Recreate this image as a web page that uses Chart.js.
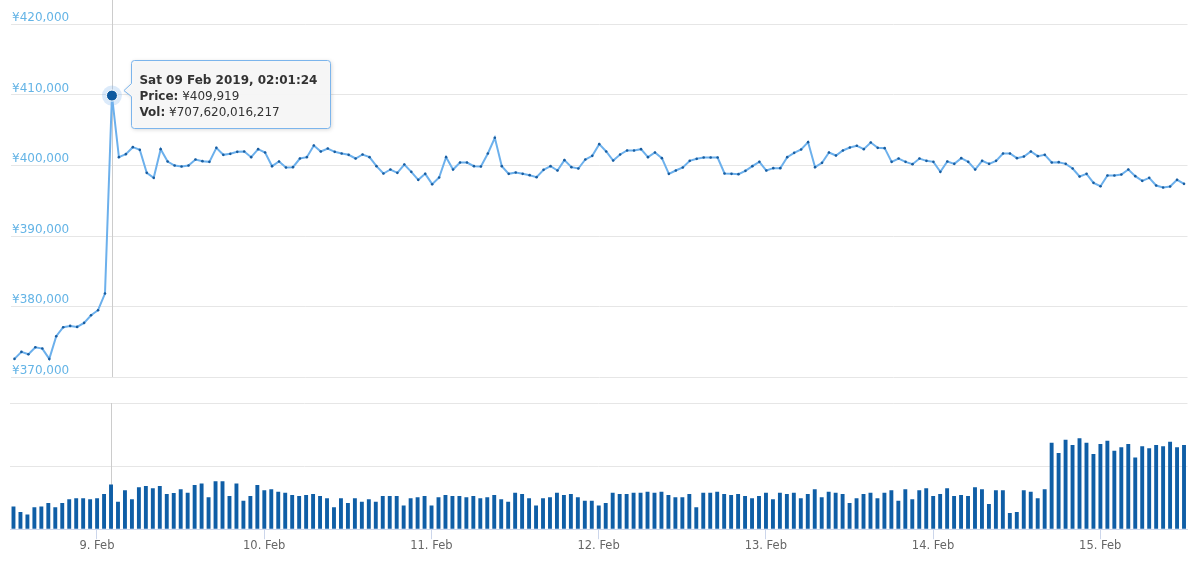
<!DOCTYPE html>
<html>
<head>
<meta charset="utf-8">
<script src="https://cdn.jsdelivr.net/npm/chart.js@4.4.1/dist/chart.umd.min.js"></script>
<style>
  html, body { margin: 0; padding: 0; background: #ffffff; }
  #wrap { position: relative; width: 1200px; height: 563px; overflow: hidden; }
  canvas { position: absolute; left: 0; }
  #priceCanvas { top: 0; }
  #volCanvas { top: 390px; }
</style>
</head>
<body>
<div id="wrap">
  <canvas id="priceCanvas" width="1200" height="390"></canvas>
  <canvas id="volCanvas" width="1200" height="173"></canvas>
</div>
<script>
// ---------- DATA ----------
// hourly samples, first sample: Fri 08 Feb 2019 12:01:24 (UTC)
const startTime = Date.UTC(2019, 1, 8, 12, 1, 24);
const stepMs = 3600 * 1000;

// price (JPY)
const prices = [
  372566, 373559, 373228, 374222, 374033, 372566, 375782, 377060, 377248, 377107,
  377674, 378762, 379472, 381837, 409919, 401182, 401608, 402600, 402223, 398959,
  398250, 402318, 400568, 400000, 399858, 400000, 400851, 400615, 400520, 402507,
  401514, 401656, 401939, 401987, 401183, 402318, 401845, 399905, 400568, 399716,
  399764, 400993, 401183, 402838, 401987, 402412, 401939, 401703, 401514, 400993,
  401561, 401183, 399905, 398865, 399432, 398960, 400142, 399101, 397966, 398818,
  397351, 398297, 401183, 399432, 400426, 400426, 399905, 399858, 401703, 403926,
  399905, 398818, 399007, 398818, 398628, 398345, 399385, 399905, 399290, 400757,
  399764, 399574, 400851, 401372, 403027, 401987, 400710, 401561, 402129, 402129,
  402318, 401183, 401845, 401041, 398818, 399290, 399716, 400662, 400946, 401135,
  401135, 401135, 398865, 398818, 398770, 399243, 399905, 400520, 399290, 399622,
  399622, 401183, 401797, 402270, 403311, 399764, 400378, 401845, 401419, 402129,
  402554, 402791, 402318, 403264, 402507, 402460, 400520, 400993, 400520, 400189,
  400993, 400662, 400520, 399101, 400568, 400237, 401041, 400520, 399432, 400662,
  400237, 400662, 401703, 401703, 401041, 401277, 401987, 401324, 401514, 400426,
  400473, 400237, 399574, 398439, 398818, 397540, 397067, 398581, 398581, 398723,
  399432, 398486, 397824, 398250, 397162, 396878, 397020, 397966, 397398
];

// traded volume, billions of JPY
const volumeUnit = 1e9;
const volumes = [
  361, 271, 234, 346, 361, 415, 346, 415, 473, 489,
  489, 473, 489, 558, 707.620016217, 436, 617, 473, 665, 686,
  649, 686, 558, 574, 633, 579, 702, 723, 505, 760,
  760, 526, 723, 452, 526, 702, 617, 633, 595, 579,
  542, 526, 542, 558, 526, 489, 346, 489, 415, 489,
  436, 473, 436, 526, 526, 526, 377, 489, 505, 526,
  377, 505, 542, 526, 526, 505, 526, 489, 505, 542,
  473, 436, 579, 558, 489, 377, 489, 505, 579, 542,
  558, 505, 452, 452, 377, 415, 579, 558, 558, 579,
  579, 595, 579, 595, 542, 505, 505, 558, 346, 579,
  579, 595, 558, 542, 558, 526, 489, 526, 579, 473,
  579, 558, 579, 489, 558, 633, 505, 595, 579, 558,
  415, 489, 558, 579, 489, 579, 617, 452, 633, 473,
  617, 649, 526, 558, 649, 526, 542, 526, 665, 633,
  399, 617, 617, 255, 271, 617, 595, 489, 633, 1372,
  1207, 1419, 1334, 1441, 1372, 1191, 1350, 1403, 1244, 1297,
  1350, 1138, 1313, 1281, 1334, 1313, 1387, 1297, 1334
];

// x-axis day ticks
const tickDays = [9, 10, 11, 12, 13, 14, 15];
const tickLabels = ['9. Feb', '10. Feb', '11. Feb', '12. Feb', '13. Feb', '14. Feb', '15. Feb'];

// price axis ticks
const priceTicks = [370000, 380000, 390000, 400000, 410000, 420000];

// highlighted sample (tooltip)
const activeIndex = 14;

// ---------- BUILD ----------
const times = prices.map((_, i) => startTime + i * stepMs);
const tickValues = tickDays.map(d => Date.UTC(2019, 1, d));
const xMin = times[0] - stepMs / 2;
const xMax = times[times.length - 1] + stepMs / 2;

const FONT = '"DejaVu Sans", "Lucida Grande", Arial, sans-serif';
const LINE_COLOR = '#6cb0ec';
const POINT_COLOR = '#1a5d9f';
const BAR_COLOR = '#0f5ea6';
const GRID = '#e6e6e6';
const AXIS = '#ccd6eb';
const CROSS = '#cccccc';

const fmt = n => n.toLocaleString('en-US');

function dayTicks(axis) {
  axis.ticks = tickValues.map(v => ({ value: v }));
}

const crosshair = {
  id: 'crosshair',
  beforeDatasetsDraw(chart, args, opts) {
    const x = chart.scales.x.getPixelForValue(times[activeIndex]);
    const ctx = chart.ctx;
    ctx.save();
    ctx.strokeStyle = CROSS;
    ctx.lineWidth = 1;
    ctx.beginPath();
    const xx = Math.round(x) + 0.5;
    ctx.moveTo(xx, opts.fromTop ? 0 : chart.chartArea.top);
    ctx.lineTo(xx, chart.chartArea.bottom);
    ctx.stroke();
    ctx.restore();
  }
};

const tooltipBox = {
  id: 'tooltipBox',
  afterDraw(chart) {
    const pt = chart.getDatasetMeta(0).data[activeIndex];
    const px = pt.x, py = pt.y;
    const ctx = chart.ctx;
    ctx.save();
    // halo + marker
    ctx.fillStyle = 'rgba(124,181,236,0.28)';
    ctx.beginPath(); ctx.arc(px, py, 10, 0, Math.PI * 2); ctx.fill();
    ctx.fillStyle = '#0e5aa0';
    ctx.strokeStyle = '#ffffff';
    ctx.lineWidth = 1;
    ctx.beginPath(); ctx.arc(px, py, 5.5, 0, Math.PI * 2); ctx.fill(); ctx.stroke();

    // callout
    const bx = Math.round(px + 19) + 0.5, by = Math.round(py - 36) + 0.5;
    const bw = 199, bh = 68, r = 3;
    ctx.beginPath();
    ctx.moveTo(bx + r, by);
    ctx.lineTo(bx + bw - r, by);
    ctx.arcTo(bx + bw, by, bx + bw, by + r, r);
    ctx.lineTo(bx + bw, by + bh - r);
    ctx.arcTo(bx + bw, by + bh, bx + bw - r, by + bh, r);
    ctx.lineTo(bx + r, by + bh);
    ctx.arcTo(bx, by + bh, bx, by + bh - r, r);
    ctx.lineTo(bx, py + 1);
    ctx.lineTo(px + 12, py - 5);
    ctx.lineTo(bx, py - 12);
    ctx.lineTo(bx, by + r);
    ctx.arcTo(bx, by, bx + r, by, r);
    ctx.closePath();
    ctx.shadowColor = 'rgba(0,0,0,0.18)';
    ctx.shadowBlur = 4;
    ctx.shadowOffsetX = 1;
    ctx.shadowOffsetY = 1;
    ctx.fillStyle = 'rgba(248,248,248,0.95)';
    ctx.fill();
    ctx.shadowColor = 'transparent';
    ctx.strokeStyle = '#7cb5ec';
    ctx.lineWidth = 1;
    ctx.stroke();

    // texts
    const t = new Date(times[activeIndex]);
    const days = ['Sun', 'Mon', 'Tue', 'Wed', 'Thu', 'Fri', 'Sat'];
    const months = ['Jan', 'Feb', 'Mar', 'Apr', 'May', 'Jun', 'Jul', 'Aug', 'Sep', 'Oct', 'Nov', 'Dec'];
    const p2 = n => String(n).padStart(2, '0');
    const title = days[t.getUTCDay()] + ' ' + p2(t.getUTCDate()) + ' ' + months[t.getUTCMonth()] + ' ' +
      t.getUTCFullYear() + ', ' + p2(t.getUTCHours()) + ':' + p2(t.getUTCMinutes()) + ':' + p2(t.getUTCSeconds());
    const tx = px + 27.5;
    ctx.fillStyle = '#333333';
    ctx.textBaseline = 'alphabetic';
    ctx.textAlign = 'left';
    ctx.font = 'bold 12px ' + FONT;
    ctx.fillText(title, tx, py - 12);
    const lines = [
      ['Price:', ' ¥' + fmt(prices[activeIndex])],
      ['Vol:', ' ¥' + fmt(Math.round(volumes[activeIndex] * volumeUnit))]
    ];
    lines.forEach((ln, k) => {
      const yy = py + 4 + k * 16;
      ctx.font = 'bold 12px ' + FONT;
      ctx.fillText(ln[0], tx, yy);
      const w = ctx.measureText(ln[0]).width;
      ctx.font = '12px ' + FONT;
      ctx.fillText(ln[1], tx + w, yy);
    });
    ctx.restore();
  }
};

// ---------- PRICE CHART ----------
new Chart(document.getElementById('priceCanvas'), {
  type: 'line',
  data: {
    datasets: [{
      data: prices.map((p, i) => ({ x: times[i], y: p })),
      borderColor: LINE_COLOR,
      borderWidth: 2,
      pointRadius: 1.3,
      pointBackgroundColor: POINT_COLOR,
      pointBorderWidth: 0,
      tension: 0,
      fill: false
    }]
  },
  options: {
    responsive: false,
    animation: false,
    devicePixelRatio: 1,
    layout: { padding: { left: 9, right: 12.5, top: 24.5, bottom: 13 } },
    plugins: { legend: { display: false }, tooltip: { enabled: false }, crosshair: { fromTop: true } },
    events: [],
    scales: {
      x: {
        type: 'linear', min: xMin, max: xMax, display: false,
        afterBuildTicks: dayTicks
      },
      y: {
        type: 'linear', min: priceTicks[0], max: priceTicks[priceTicks.length - 1],
        afterBuildTicks: axis => { axis.ticks = priceTicks.map(v => ({ value: v })); },
        border: { display: false },
        grid: { color: GRID, lineWidth: 1, drawTicks: false },
        ticks: {
          mirror: true, padding: 1, labelOffset: -6.5,
          color: '#64b4e6',
          font: { family: FONT, size: 12 },
          callback: v => '¥' + fmt(v)
        }
      }
    }
  },
  plugins: [crosshair, tooltipBox]
});

// ---------- VOLUME CHART ----------
new Chart(document.getElementById('volCanvas'), {
  type: 'bar',
  data: {
    datasets: [{
      data: volumes.map((v, i) => ({ x: times[i], y: v * volumeUnit })),
      backgroundColor: BAR_COLOR,
      borderWidth: 0,
      barPercentage: 0.56,
      categoryPercentage: 1
    }]
  },
  options: {
    responsive: false,
    animation: false,
    devicePixelRatio: 1,
    layout: { padding: { left: 10, right: 12.5, top: 13, bottom: 10 } },
    plugins: { legend: { display: false }, tooltip: { enabled: false }, crosshair: { fromTop: false } },
    events: [],
    scales: {
      x: {
        type: 'linear', min: xMin, max: xMax, offset: false,
        afterBuildTicks: dayTicks,
        border: { display: true, color: AXIS, width: 1 },
        grid: { display: true, offset: false, drawOnChartArea: false, drawTicks: true, tickLength: 10, color: AXIS },
        ticks: {
          padding: 0, color: '#666666', maxRotation: 0, autoSkip: false,
          font: { family: FONT, size: 11.5 },
          callback: v => tickLabels[tickValues.indexOf(v)]
        }
      },
      y: {
        type: 'linear', min: 0, max: 2e12,
        afterBuildTicks: axis => { axis.ticks = [0, 1e12, 2e12].map(v => ({ value: v })); },
        border: { display: false },
        grid: { color: c => (c.tick && c.tick.value === 0) ? 'rgba(0,0,0,0)' : GRID, drawTicks: false },
        ticks: { display: false }
      }
    }
  },
  plugins: [crosshair]
});
</script>
</body>
</html>
